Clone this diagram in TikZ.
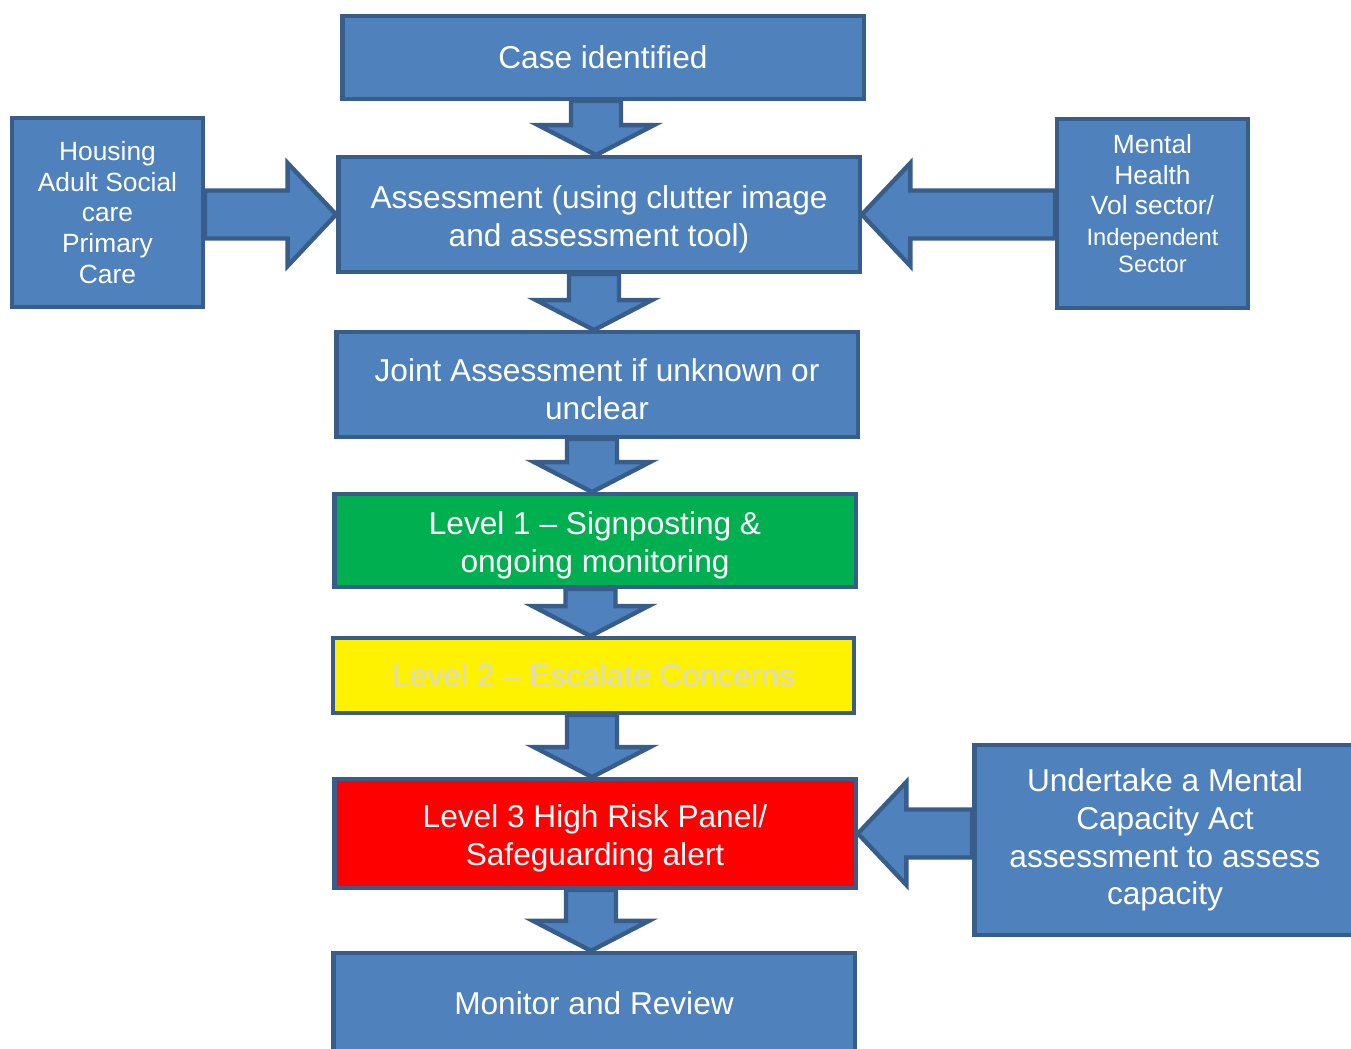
\documentclass[tikz,border=0pt]{standalone}
\usepackage{fontspec}
\setmainfont{Liberation Sans}
\usetikzlibrary{calc}
\pgfdeclarelayer{back}
\pgfsetlayers{back,main}
\definecolor{boxblue}{HTML}{4F81BD}
\definecolor{boxedge}{HTML}{385D8A}
\definecolor{lvlgreen}{HTML}{00B050}
\definecolor{lvlgrey}{HTML}{D9D9D9}

\tikzset{
  stage/.style={draw=boxedge, fill=boxblue, line width=2.5pt, text=white, align=center,
    minimum width=10.43cm, inner sep=2pt, font=\fontsize{18}{21.5}\selectfont},
  side/.style={stage, minimum width=3.81cm, minimum height=3.77cm, font=\fontsize{15}{17.4}\selectfont},
  blockarrow/.style={draw=boxedge, fill=boxblue, line width=2.5pt, line join=miter}
}
\newcommand{\topgap}{\mbox{}\\[-3pt]}

% block arrow pointing down from #1 to #2
\newcommand{\downarr}[2]{%
  \draw[blockarrow] let \p1=(#1.south), \p2=(#2.north) in
    ({\x2-0.56cm},\y1) -- ({\x2-0.56cm},{\y2+0.6cm}) -- ({\x2-1.22cm},{\y2+0.6cm})
    -- ({\x2-0.06cm},\y2) -- ({\x2+1.1cm},{\y2+0.6cm}) -- ({\x2+0.44cm},{\y2+0.6cm})
    -- ({\x2+0.44cm},\y1) -- cycle;}
% block arrow sideways, #3 = 1 to the right, -1 to the left
\newcommand{\sidearr}[3]{%
  \draw[blockarrow] let \p1=(#1), \p2=(#2) in
    (\x1,{\y2+0.48cm}) -- ({\x2-(#3)*0.97cm},{\y2+0.48cm}) -- ({\x2-(#3)*0.97cm},{\y2+1.03cm})
    -- (\p2) -- ({\x2-(#3)*0.97cm},{\y2-1.03cm}) -- ({\x2-(#3)*0.97cm},{\y2-0.48cm})
    -- (\x1,{\y2-0.48cm}) -- cycle;}

\begin{document}
\begin{tikzpicture}[x=0.02cm, y=-0.02cm]
\useasboundingbox (0,0) rectangle (1351,1048);
\clip (0,0) rectangle (1351,1048);

\node (case) at (603,57.5) [stage, minimum height=1.65cm] {Case identified};
\node (assess) at (599,214.5) [stage, minimum height=2.29cm] {\topgap Assessment (using clutter image\\and assessment tool)};
\node (joint) at (597,384.5) [stage, minimum height=2.09cm] {\topgap Joint Assessment if unknown or\\unclear};
\node (lvlone) at (595,540.5) [stage, fill=lvlgreen, minimum height=1.85cm] {\topgap Level 1 -- Signposting \&\\ongoing monitoring};
\node (lvltwo) at (593.5,675.5) [stage, fill=yellow, text=lvlgrey, minimum height=1.49cm] {Level 2 -- Escalate Concerns};
\node (lvlthree) at (595,833.5) [stage, fill=red, minimum height=2.17cm] {\topgap Level 3 High Risk Panel/\\Safeguarding alert};
\node (monitor) at (594,1003) [stage, minimum height=2.0cm] {Monitor and Review};

\node (housing) at (107.5,212.5) [side] {Housing\\Adult Social\\care\\Primary\\Care};
\node (mental) at (1152.5,213.5) [side] {Mental\\Health\\Vol sector/\\{\fontsize{13.5}{15}\selectfont Independent}\\[-2pt]{\fontsize{13.5}{15}\selectfont Sector}\\[-6pt]\mbox{}};
\node (mca) at (1165,840) [side, minimum width=7.63cm, minimum height=3.79cm, font=\fontsize{18}{21.5}\selectfont] {Undertake a Mental\\Capacity Act\\assessment to assess\\capacity};

\begin{pgfonlayer}{back}
\downarr{case}{assess}
\downarr{assess}{joint}
\downarr{joint}{lvlone}
\downarr{lvlone}{lvltwo}
\downarr{lvltwo}{lvlthree}
\downarr{lvlthree}{monitor}
\sidearr{housing.east}{assess.west}{1}
\sidearr{mental.west}{assess.east}{-1}
\sidearr{mca.west}{lvlthree.east}{-1}
\end{pgfonlayer}

\end{tikzpicture}
\end{document}
